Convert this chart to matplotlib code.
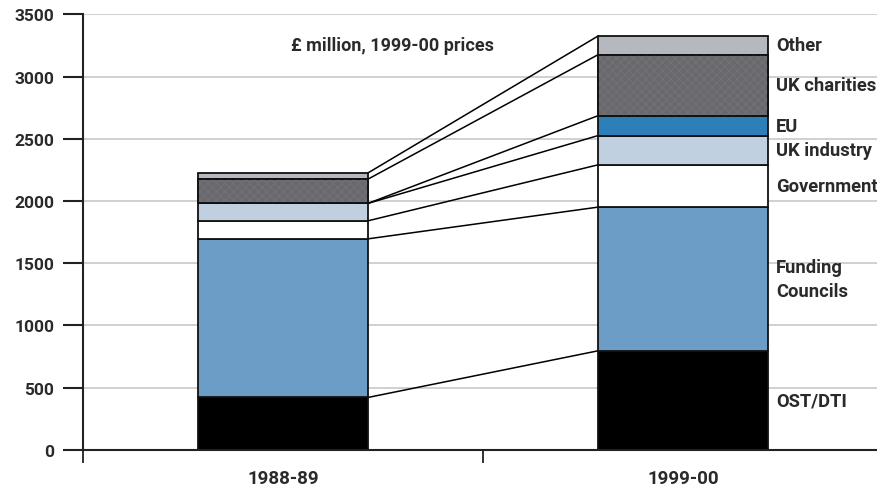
import matplotlib
matplotlib.use('Agg')
import matplotlib.pyplot as plt
import numpy as np

# UK university research funding by source, £ million at 1999-00 prices
years = ['1988-89', '1999-00']
sources = ['OST/DTI', 'Funding\nCouncils', 'Government', 'UK industry', 'EU', 'UK charities', 'Other']
funding_8889 = [420, 1275, 145, 140, 0, 195, 50]
funding_9900 = [795, 1155, 340, 235, 160, 490, 150]

colours = ['#000000', '#6c9dc6', '#ffffff', '#c0d0e1', '#2d7fb9', '#68686d', '#b5b8be']

plt.rcParams['font.family'] = ['Roboto', 'DejaVu Sans']
plt.rcParams['font.weight'] = 'bold'

fig = plt.figure(figsize=(8.78, 4.89), dpi=100)
ax = fig.add_axes([0.0945, 0.0783, 0.9112, 0.8904])

w = 0.425
data = np.array([funding_8889, funding_9900], dtype=float)
tops = np.cumsum(data, axis=1)
bottoms = tops - data

for j in range(len(sources)):
    ax.bar([0, 1], data[:, j], bottom=bottoms[:, j], width=w, color=colours[j],
           edgecolor='#111111', linewidth=1.3, zorder=3)
    if sources[j] == 'UK charities':
        # faint cross texture on the charities block
        ax.bar([0, 1], data[:, j], bottom=bottoms[:, j], width=w, color='none',
               edgecolor='#707075', hatch='xxxx', linewidth=0, zorder=3.5)
        ax.bar([0, 1], data[:, j], bottom=bottoms[:, j], width=w, color='none',
               edgecolor='#111111', linewidth=1.3, zorder=3.6)

# join the segment tops of the two bars
for j in range(len(sources)):
    ax.plot([w / 2, 1 - w / 2], [tops[0, j], tops[1, j]], color='black', lw=1.1, zorder=2)

# source names beside the 1999-00 bar
for j, name in enumerate(sources):
    mid = bottoms[1, j] + data[1, j] / 2
    ax.text(1 + w / 2 + 0.02, mid, name, ha='left', va='center', fontsize=13.2,
            color='#2a2a2a', linespacing=1.45, zorder=4)

ax.text(0.02, 3255, '£ million, 1999-00 prices', ha='left', va='center', fontsize=13,
        color='#2a2a2a')

ax.set_xlim(-0.5, 1.5)
ax.set_ylim(0, 3500)
ax.set_yticks(np.arange(0, 3501, 500))
ax.yaxis.grid(True, color='#c8c8c8', lw=1.2, zorder=0)
ax.set_axisbelow(True)

ax.set_xticks([0, 1])
ax.set_xticklabels(years)
ax.set_xticks([-0.5, 0.5, 1.5], minor=True)
ax.tick_params(axis='x', which='major', length=0, pad=14, labelsize=13.5, labelcolor='#2a2a2a')
ax.tick_params(axis='x', which='minor', length=9, width=1.3, color='#222222', direction='out')
ax.tick_params(axis='y', length=14.5, width=1.5, color='#222222', pad=6, labelsize=12.5,
               labelcolor='#2a2a2a')

for s in ['top', 'right']:
    ax.spines[s].set_visible(False)
for s in ['left', 'bottom']:
    ax.spines[s].set_linewidth(1.5)
    ax.spines[s].set_color('#222222')
    ax.spines[s].set_zorder(5)

fig.savefig('out.png', dpi=100)
